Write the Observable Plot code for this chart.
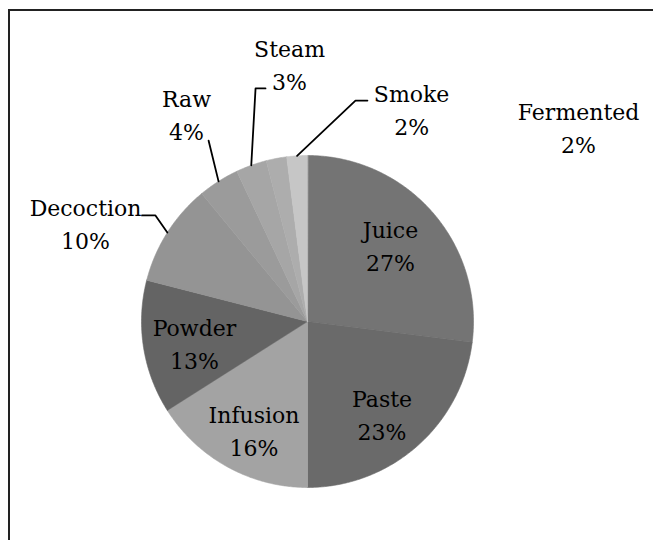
<!DOCTYPE html>
<html><head><meta charset="utf-8">
<script src="https://cdn.jsdelivr.net/npm/d3@7"></script>
<script src="https://cdn.jsdelivr.net/npm/@observablehq/plot@0.6"></script>
<style>
html,body{margin:0;padding:0;background:#fff;overflow:hidden;}
#wrap{position:relative;width:653px;height:540px;overflow:hidden;}
#chart{position:absolute;left:0;top:0;}
#border{position:absolute;left:8px;top:9px;width:700px;height:600px;border-top:2px solid #222;border-left:2px solid #222;z-index:2;}
</style></head><body>
<div id="wrap"><div id="chart"></div><div id="border"></div></div>
<script>
// ---- data ----
const categories = ["Juice","Paste","Infusion","Powder","Decoction","Raw","Steam","Fermented","Smoke"];
const percents   = [27, 23, 16, 13, 10, 4, 3, 2, 2];
const colors     = ["#747474","#6a6a6a","#a3a3a3","#646464","#949494","#9b9b9b","#a6a6a6","#adadad","#c6c6c6"];

// ---- layout (unit-circle coordinates, radius = 1) ----
const labelAt = {
  Juice:[0.5,0.466], Paste:[0.449,-0.552], Infusion:[-0.322,-0.648], Powder:[-0.681,-0.124],
  Decoction:[-1.337,0.599], Raw:[-0.729,1.255], Steam:[-0.108,1.557], Smoke:[0.627,1.285], Fermented:[1.633,1.177]
};
const leaderBends = {
  Decoction:[[-0.997,0.639],[-0.916,0.639]],
  Raw:[[-0.596,1.09]],
  Steam:[[-0.253,1.404],[-0.313,1.404]],
  Smoke:[[0.361,1.331],[0.289,1.331]]
};

const table = categories.map((name,i)=>({name, pct:percents[i], color:colors[i]}));
const arcs = d3.pie().sort(null).value(d=>d.pct)(table);

// slice polygons
const slicePts = [];
arcs.forEach(a=>{
  const n = Math.max(4, Math.ceil((a.endAngle-a.startAngle)/(Math.PI/360)));
  slicePts.push({name:a.data.name, color:a.data.color, x:0, y:0});
  for(let k=0;k<=n;k++){
    const t = a.startAngle + (a.endAngle-a.startAngle)*k/n;
    slicePts.push({name:a.data.name, color:a.data.color, x:Math.sin(t), y:Math.cos(t)});
  }
});

// leader lines
const leaderPts = [];
arcs.forEach(a=>{
  const b = leaderBends[a.data.name];
  if(!b) return;
  b.forEach(p=>leaderPts.push({name:a.data.name, x:p[0], y:p[1]}));
  const m = (a.startAngle+a.endAngle)/2;
  leaderPts.push({name:a.data.name, x:Math.sin(m), y:Math.cos(m)});
});

const labels = table.map(d=>({x:labelAt[d.name][0], y:labelAt[d.name][1], text:d.name+"\n"+d.pct+"%"}));

const chart = Plot.plot({
  width:653, height:540,
  marginLeft:141, marginRight:180, marginTop:155, marginBottom:53,
  x:{domain:[-1,1], axis:null},
  y:{domain:[-1,1], axis:null},
  color:{type:"identity"},
  style:{background:"transparent", overflow:"visible"},
  marks:[
    Plot.line(slicePts,{x:"x", y:"y", z:"name", fill:"color", stroke:"color", strokeWidth:0.6, curve:"linear-closed"}),
    Plot.line(leaderPts,{x:"x", y:"y", z:"name", stroke:"#000", strokeWidth:1.8}),
    Plot.text(labels,{x:"x", y:"y", text:"text", fontSize:22, fontFamily:"DejaVu Serif", lineHeight:1.5, fill:"#000", textAnchor:"middle"})
  ]
});
document.getElementById("chart").appendChild(chart);
</script>
</body></html>
